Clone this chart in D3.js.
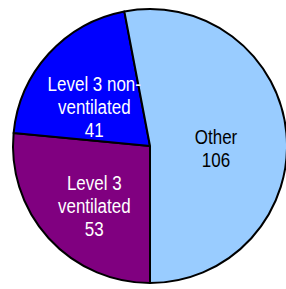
<!DOCTYPE html>
<html>
<head>
<meta charset="utf-8">
<script src="https://cdn.jsdelivr.net/npm/d3@7"></script>
<style>
  html, body { margin: 0; padding: 0; background: #fff; overflow: hidden; }
  svg { display: block; font-family: 'Liberation Sans', Arial, sans-serif; }
</style>
</head>
<body>
<div id="chart"></div>
<script>
// slices in drawing order (clockwise, first one starts at 6 o'clock)
const categories = ['Level 3 ventilated', 'Level 3 non-ventilated', 'Other']
const values = [53, 41, 106]
const labelLines = [['Level 3', 'ventilated'], ['Level 3 non-', 'ventilated'], ['Other']]

const colors = ['#800080', '#0000ff', '#99ccff']
const textColors = ['#ffffff', '#ffffff', '#000000']
// small per-slice nudges so labels sit where the original put them
const nudge = [[0, 9], [0, 12], [-9, 10]]

const width = 286
const height = 289
const cx = 150
const cy = 146
const radius = 137
const lineH = 23

const svg = d3.select('#chart').append('svg').attr('width', width).attr('height', height)
const g = svg.append('g').attr('transform', `translate(${cx},${cy})`)

const data = categories.map((c, i) => ({ name: c, value: values[i], i }))

const pie = d3.pie().sort(null).value((d) => d.value).startAngle(Math.PI).endAngle(Math.PI * 3)
const arcs = pie(data)

const arc = d3.arc().innerRadius(0).outerRadius(radius)
const labelArc = d3.arc().innerRadius(radius * 0.55).outerRadius(radius * 0.55)

g.selectAll('path.slice')
  .data(arcs)
  .join('path')
  .attr('class', 'slice')
  .attr('d', arc)
  .attr('fill', (d) => colors[d.data.i])
  .attr('stroke', '#000')
  .attr('stroke-width', 2)
  .attr('stroke-linejoin', 'round')

const labels = g.selectAll('g.label')
  .data(arcs)
  .join('g')
  .attr('class', 'label')
  .attr('transform', (d) => {
    const [x, y] = labelArc.centroid(d)
    const [dx, dy] = nudge[d.data.i]
    return `translate(${x + dx},${y + dy}) scale(0.87,1)`
  })

labels.each(function (d) {
  const lines = [...labelLines[d.data.i], String(d.data.value)]
  const first = -((lines.length - 1) * lineH) / 2 + 7
  d3.select(this)
    .selectAll('text')
    .data(lines)
    .join('text')
    .attr('x', 0)
    .attr('y', (t, k) => first + k * lineH)
    .attr('text-anchor', 'middle')
    .attr('fill', textColors[d.data.i])
    .style('font-size', '19.5px')
    .text((t) => t)
})
</script>
</body>
</html>
